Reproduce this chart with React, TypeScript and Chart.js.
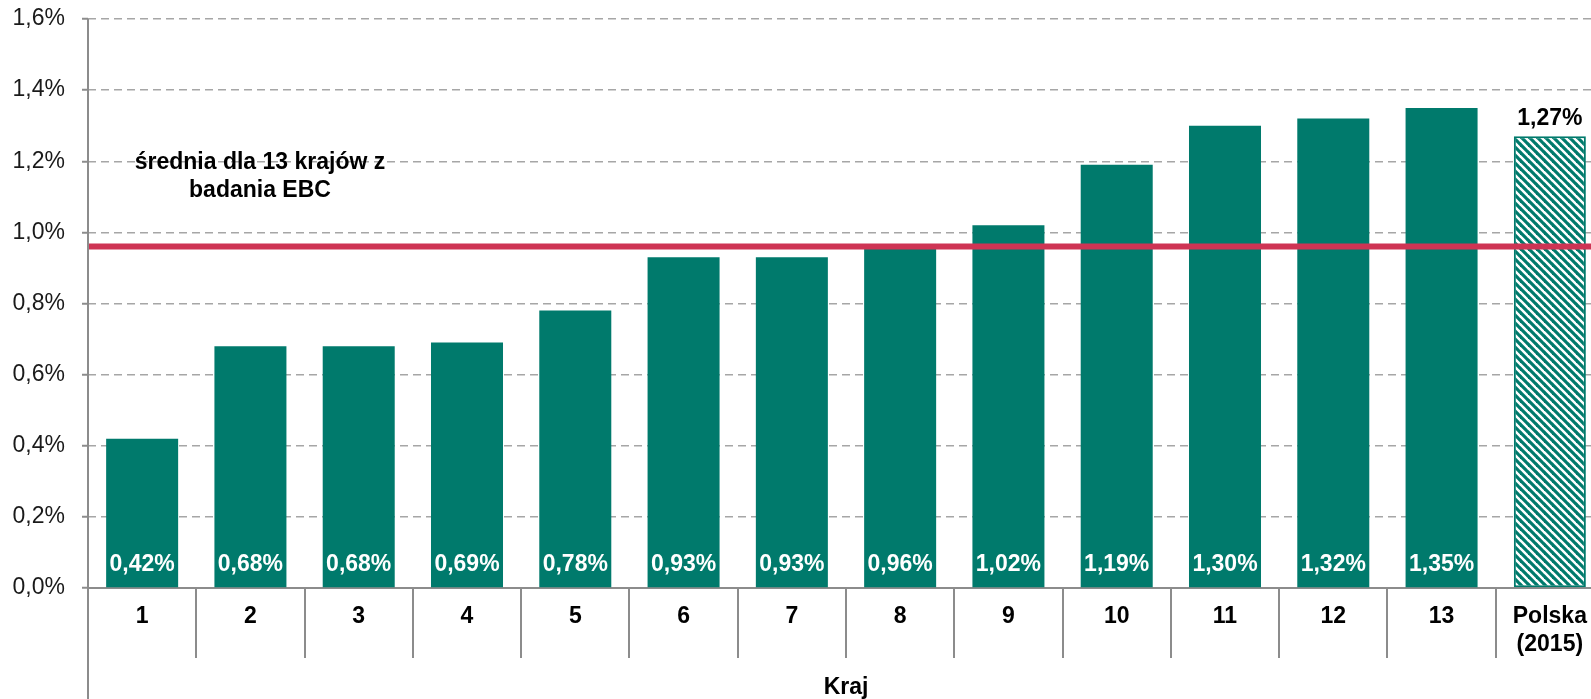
import React, { useEffect, useRef } from "react";
import { Chart, registerables } from "chart.js";

Chart.register(...registerables);

const categories: (string | string[])[] = ["1", "2", "3", "4", "5", "6", "7", "8", "9", "10", "11", "12", "13", ["Polska", "(2015)"]];
const values: number[] = [0.42, 0.68, 0.68, 0.69, 0.78, 0.93, 0.93, 0.96, 1.02, 1.19, 1.3, 1.32, 1.35, 1.27];
const averageValue = 0.96;
const averageLabel: string[] = ["średnia dla 13 krajów z", "badania EBC"];
const axisTitle = "Kraj";

const FONT = '"Liberation Sans", Arial, Helvetica, sans-serif';
const TEAL = "#007A6C";
const RED = "#CE3454";
const AXIS_GRAY = "#8C8C8C";
const GRID_GRAY = "#A6A6A6";

const fmt = (v: number, d: number) => v.toFixed(d).replace(".", ",") + "%";

function makeHatch(): CanvasPattern | string {
  const s = 8;
  const c = document.createElement("canvas");
  c.width = s;
  c.height = s;
  const ctx = c.getContext("2d");
  if (!ctx) return TEAL;
  ctx.fillStyle = "#ffffff";
  ctx.fillRect(0, 0, s, s);
  ctx.strokeStyle = TEAL;
  ctx.lineWidth = 3.2;
  for (const o of [-s, 0, s]) {
    ctx.beginPath();
    ctx.moveTo(o - 1, -1);
    ctx.lineTo(o + s + 1, s + 1);
    ctx.stroke();
  }
  const p = ctx.createPattern(c, "repeat");
  return p || TEAL;
}

export default function App() {
  const ref = useRef<HTMLCanvasElement | null>(null);

  useEffect(() => {
    document.body.style.margin = "0";
    document.body.style.overflow = "hidden";
    const canvas = ref.current;
    if (!canvas) return;
    const hatch = makeHatch();
    const lastIdx = categories.length - 1;

    const extrasPlugin = {
      id: "extras",
      afterDatasetsDraw(chart: any) {
        const { ctx, chartArea } = chart;
        const yScale = chart.scales.y;
        ctx.save();
        ctx.setLineDash([]);
        ctx.strokeStyle = AXIS_GRAY;
        ctx.lineWidth = 2;
        ctx.beginPath();
        ctx.moveTo(chartArea.left, chartArea.top);
        ctx.lineTo(chartArea.left, chart.height);
        ctx.stroke();

        const yAvg = yScale.getPixelForValue(averageValue);
        ctx.strokeStyle = RED;
        ctx.lineWidth = 6;
        ctx.beginPath();
        ctx.moveTo(chartArea.left + 1, yAvg);
        ctx.lineTo(chartArea.right, yAvg);
        ctx.stroke();

        const meta = chart.getDatasetMeta(0);
        ctx.font = `bold 23px ${FONT}`;
        ctx.textAlign = "center";
        ctx.textBaseline = "middle";
        meta.data.forEach((el: any, i: number) => {
          const txt = fmt(values[i], 2);
          if (i === lastIdx) {
            ctx.fillStyle = "#000000";
            ctx.fillText(txt, el.x, el.y - 18);
          } else {
            ctx.fillStyle = "#ffffff";
            ctx.fillText(txt, el.x, el.base - 23);
          }
        });

        ctx.fillStyle = "#000000";
        ctx.fillText(averageLabel[0], 260, yAvg - 84);
        ctx.fillText(averageLabel[1], 260, yAvg - 56);
        ctx.restore();
      },
    };

    const chart = new Chart(canvas, {
      type: "bar",
      data: {
        labels: categories as any,
        datasets: [
          {
            data: values,
            backgroundColor: values.map((_, i) => (i === lastIdx ? hatch : TEAL)) as any,
            borderColor: TEAL,
            borderWidth: values.map((_, i) => (i === lastIdx ? 2 : 0)),
            borderSkipped: false,
            categoryPercentage: 1,
            barPercentage: 0.665,
          } as any,
        ],
      },
      options: {
        animation: false,
        responsive: false,
        maintainAspectRatio: false,
        layout: { padding: { top: 19, right: 0, bottom: 0, left: 0 } },
        plugins: {
          legend: { display: false },
          tooltip: { enabled: false },
          title: { display: false },
        },
        scales: {
          x: {
            type: "category",
            position: "bottom",
            offset: true,
            grid: {
              display: true,
              offset: true,
              drawOnChartArea: false,
              drawTicks: true,
              tickLength: 70,
              color: AXIS_GRAY,
              lineWidth: 2,
            },
            border: { display: true, color: AXIS_GRAY, width: 2 },
            ticks: {
              color: "#000000",
              font: { family: FONT, size: 23, weight: "bold", lineHeight: 1.2 },
              padding: -55,
              maxRotation: 0,
              minRotation: 0,
              autoSkip: false,
            },
            title: {
              display: true,
              text: axisTitle,
              color: "#000000",
              font: { family: FONT, size: 23, weight: "bold", lineHeight: 1 },
              padding: { top: 0, bottom: 0 },
            },
            afterFit: (s: any) => {
              s.height = 111;
              s.paddingLeft = 0;
              s.paddingRight = 0;
            },
          },
          y: {
            type: "linear",
            min: 0,
            max: 1.6,
            ticks: {
              stepSize: 0.2,
              color: "#1a1a1a",
              font: { family: FONT, size: 23 },
              padding: 17,
              callback: (v: any) => fmt(Number(v), 1),
            },
            grid: {
              color: GRID_GRAY,
              lineWidth: 1.5,
              tickBorderDash: [],
              tickLength: 6,
              tickColor: AXIS_GRAY,
              tickWidth: 2,
              drawTicks: true,
            },
            border: { display: false, dash: [8, 5] },
            afterFit: (s: any) => {
              s.width = 88;
              s.paddingTop = 0;
              s.paddingBottom = 0;
            },
          },
        },
      } as any,
      plugins: [extrasPlugin],
    });

    return () => {
      chart.destroy();
    };
  }, []);

  return (
    <div style={{ width: 1591, height: 699, overflow: "hidden", position: "relative" }}>
      <canvas ref={ref} width={1604} height={699} style={{ width: 1604, height: 699, display: "block" }} />
    </div>
  );
}
